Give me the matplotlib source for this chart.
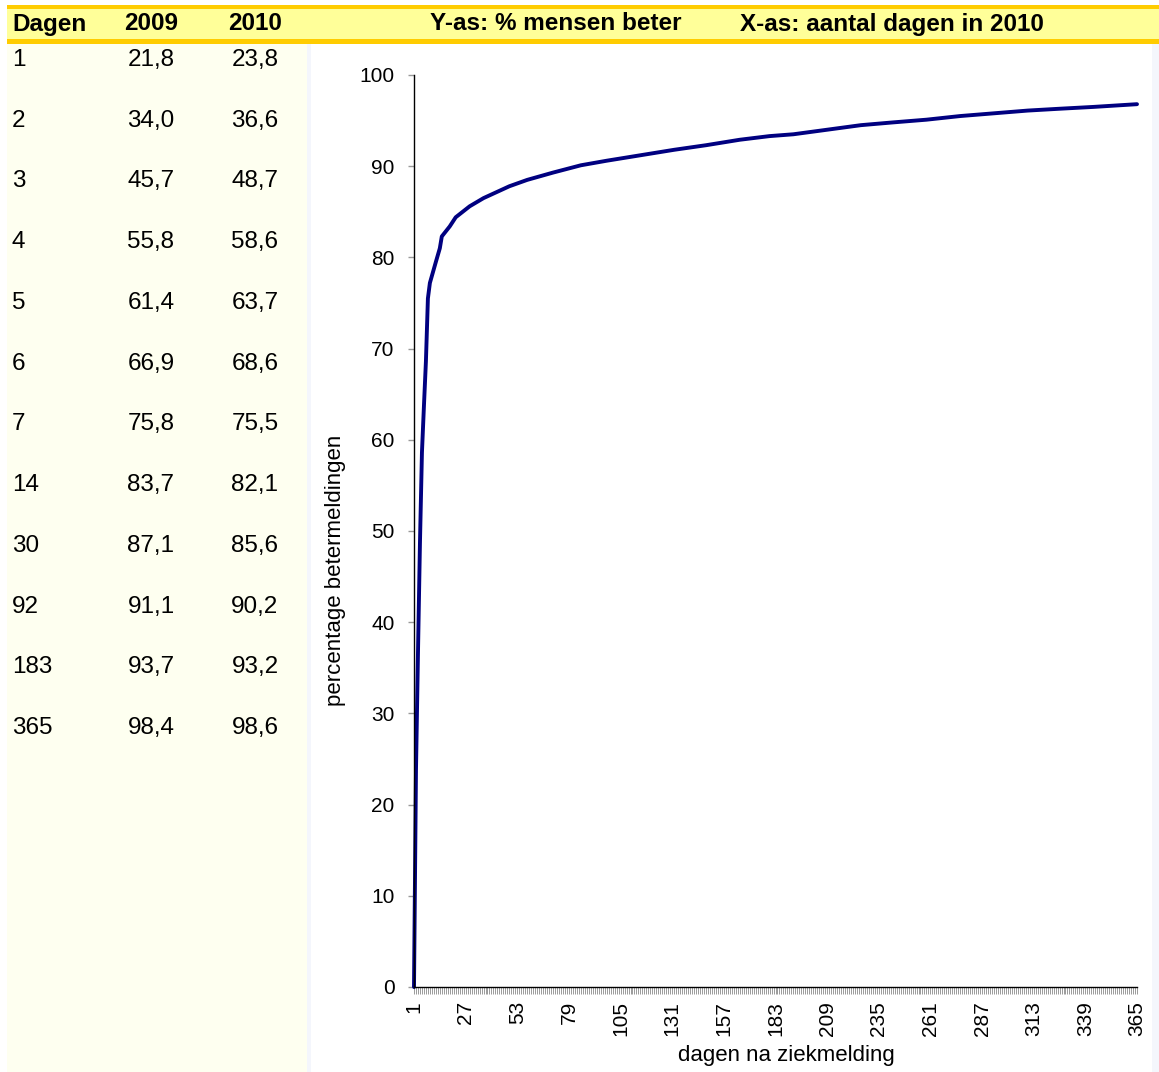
import numpy as np
import matplotlib
matplotlib.use('Agg')
import matplotlib.pyplot as plt
from matplotlib.patches import Rectangle

plt.rcParams['font.family'] = ['Liberation Sans', 'DejaVu Sans']

# table on the left
dagen = ['1', '2', '3', '4', '5', '6', '7', '14', '30', '92', '183', '365']
pct_2009 = ['21,8', '34,0', '45,7', '55,8', '61,4', '66,9', '75,8', '83,7', '87,1', '91,1', '93,7', '98,4']
pct_2010 = ['23,8', '36,6', '48,7', '58,6', '63,7', '68,6', '75,5', '82,1', '85,6', '90,2', '93,2', '98,6']

# curve (category = day number on the axis)
curve_days = [1, 2, 3, 4, 5, 6, 7, 8, 9, 12, 14, 15, 19, 22, 29, 36, 49, 58, 71, 85,
              98, 115, 132, 148, 165, 180, 192, 209, 226, 242, 259, 276, 293, 310,
              326, 343, 365]
curve_pct = [0, 23.8, 36.6, 48.7, 58.6, 63.7, 68.6, 75.5, 77.2, 79.5, 81.0, 82.3, 83.4,
             84.4, 85.6, 86.5, 87.8, 88.5, 89.3, 90.1, 90.6, 91.2, 91.8, 92.3, 92.9,
             93.3, 93.5, 94.0, 94.5, 94.8, 95.1, 95.5, 95.8, 96.1, 96.3, 96.5, 96.8]

W, H = 1159, 1072
fig = plt.figure(figsize=(W / 100, H / 100), dpi=100)


def fx(px):
    return px / W


def fy(py):
    return 1 - py / H


def rect(x0, y0, x1, y1, color):
    fig.add_artist(Rectangle((fx(x0), fy(y1)), fx(x1) - fx(x0), fy(y0) - fy(y1),
                             transform=fig.transFigure, facecolor=color,
                             edgecolor='none', zorder=0))


# background panels
rect(7, 44, 307, H, '#FEFFF0')
rect(307, 44, 311, H, '#F4F6FC')
rect(1152, 44, W, H, '#F4F6FC')
# header band
rect(7, 5, W, 9, '#FFCC00')
rect(7, 9, W, 39, '#FFFF99')
rect(7, 39, W, 44, '#FFCC00')

hdr = dict(fontsize=17.5, fontweight='bold', va='center', color='black')
fig.text(fx(12), fy(24), 'Dagen', ha='left', **hdr)
fig.text(fx(151), fy(24), '2009', ha='center', **hdr)
fig.text(fx(255), fy(24), '2010', ha='center', **hdr)
fig.text(fx(556), fy(24), 'Y-as: % mensen beter', ha='center', **hdr)
fig.text(fx(892), fy(24), 'X-as: aantal dagen in 2010', ha='center', **hdr)

for i, (d, a, b) in enumerate(zip(dagen, pct_2009, pct_2010)):
    yy = 60 + i * 60.73
    fig.text(fx(12), fy(yy), d, ha='left', va='center', fontsize=17.5)
    fig.text(fx(151), fy(yy), a, ha='center', va='center', fontsize=17.5)
    fig.text(fx(255), fy(yy), b, ha='center', va='center', fontsize=17.5)

# chart
ax = fig.add_axes([fx(414), fy(987), fx(1137) - fx(414), fy(75) - fy(987)])
ax.set_facecolor('none')
ax.plot(curve_days, curve_pct, color='#000080', lw=2.8, solid_capstyle='round',
        solid_joinstyle='round', clip_on=False)
ax.set_xlim(1, 365)
ax.set_ylim(0, 100)

ax.spines['top'].set_visible(False)
ax.spines['right'].set_visible(False)
ax.spines['left'].set_linewidth(1)
ax.spines['bottom'].set_linewidth(1)

ax.set_yticks(np.arange(0, 101, 10))
ax.tick_params(axis='y', direction='out', length=4, width=1, color='#999999',
               labelsize=15, pad=10)
ax.set_xticks(np.arange(1, 366, 26))
ax.set_xticks(np.arange(1, 366, 1), minor=True)
ax.tick_params(axis='x', which='both', direction='out', length=5, width=0.7,
               color='#9a9a9a', labelsize=15, pad=5, labelrotation=90)

fig.text(fx(336), fy(570), 'percentage betermeldingen', rotation=90,
         ha='center', va='center', fontsize=16)
fig.text(fx(786), fy(1056), 'dagen na ziekmelding', ha='center', va='center',
         fontsize=16)

fig.savefig('out.png', dpi=100)
